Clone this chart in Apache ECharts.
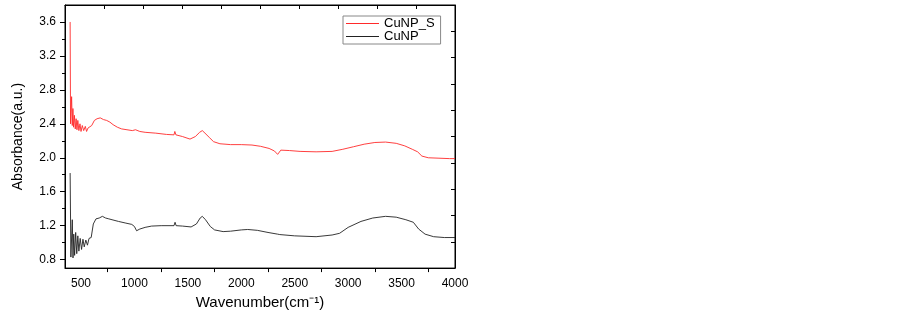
<!DOCTYPE html>
<html>
<head>
    <meta charset="utf-8">
    <title>FTIR absorbance</title>
    <script src="https://cdn.jsdelivr.net/npm/echarts@6/dist/echarts.min.js"></script>
</head>
<body style="margin:0;background:#fff;">
    <div id="main" style="width: 903px;height:315px;"></div>
    <script type="text/javascript">
        // 数据
        var wnRed = [398, 402, 412, 418, 424, 430, 438, 446, 454, 462, 470, 480, 490, 500, 512, 525, 540, 552, 565, 580,
            600, 625, 650, 680, 710, 740, 770, 800, 840, 880, 930, 980, 1010, 1050, 1100, 1200, 1300, 1370, 1378, 1388,
            1450, 1520, 1570, 1610, 1635, 1660, 1700, 1740, 1800, 1900, 2000, 2100, 2180, 2260, 2310, 2340, 2350, 2358,
            2370, 2450, 2550, 2700, 2850, 2950, 3050, 3150, 3250, 3350, 3450, 3530, 3600, 3650, 3690, 3750, 3850, 3950, 4000];
        var absRed = [3.6, 2.4, 2.72, 2.38, 2.58, 2.36, 2.5, 2.34, 2.46, 2.33, 2.44, 2.32, 2.4, 2.31, 2.38, 2.32, 2.37, 2.31, 2.35, 2.33,
            2.38, 2.44, 2.46, 2.47, 2.45, 2.44, 2.42, 2.39, 2.36, 2.34, 2.33, 2.32, 2.33, 2.31, 2.3, 2.29, 2.275, 2.27, 2.31, 2.27,
            2.25, 2.22, 2.25, 2.3, 2.32, 2.29, 2.24, 2.19, 2.165, 2.155, 2.155, 2.15, 2.135, 2.11, 2.08, 2.04, 2.02, 2.03,
            2.09, 2.085, 2.075, 2.07, 2.075, 2.1, 2.13, 2.16, 2.18, 2.185, 2.17, 2.14, 2.1, 2.07, 2.02, 2.0, 1.995, 1.99, 1.99];

        var wnBlack = [398, 405, 418, 425, 432, 440, 450, 460, 470, 480, 492, 505, 518, 530, 545, 560, 575, 595, 615, 640,
            670, 700, 730, 760, 790, 850, 920, 975, 1000, 1020, 1050, 1100, 1160, 1250, 1370, 1380, 1390, 1450, 1530, 1580,
            1615, 1635, 1665, 1710, 1750, 1830, 1900, 2000, 2060, 2150, 2250, 2340, 2350, 2360, 2500, 2700, 2850, 2920,
            3000, 3120, 3230, 3350, 3450, 3540, 3610, 3660, 3720, 3800, 3900, 4000];
        var absBlack = [1.82, 0.83, 1.27, 0.82, 1.1, 0.85, 1.12, 0.87, 1.08, 0.9, 1.05, 0.92, 1.04, 0.95, 1.03, 0.97, 1.05, 1.06, 1.22, 1.28,
            1.29, 1.31, 1.29, 1.28, 1.27, 1.25, 1.23, 1.215, 1.19, 1.14, 1.16, 1.18, 1.195, 1.2, 1.2, 1.24, 1.2, 1.195, 1.185, 1.22,
            1.29, 1.31, 1.27, 1.19, 1.15, 1.13, 1.135, 1.15, 1.155, 1.145, 1.12, 1.1, 1.11, 1.095, 1.08, 1.07, 1.09, 1.11,
            1.18, 1.25, 1.29, 1.31, 1.3, 1.27, 1.24, 1.16, 1.1, 1.07, 1.06, 1.06];

        var seriesNames = ['CuNP_S', 'CuNP'];
        var xLabels = [500, 1000, 1500, 2000, 2500, 3000, 3500, 4000];
        var yLabels = [0.8, 1.2, 1.6, 2.0, 2.4, 2.8, 3.2, 3.6];

        var colors = ['#ff2a2a', '#222'];
        var xMin = 350, xMax = 4000, yMin = 0.7, yMax = 3.8;
        var font = '"Liberation Sans", Arial, sans-serif';

        function pairs(xs, ys) {
            return xs.map(function (x, i) { return [x, ys[i]]; });
        }
        // 底部刻度在标签之间
        var xTicks = xLabels.slice(0, -1).map(function (v) { return v + 250; });
        var yMinor = yLabels.slice(0, -1).map(function (v) { return +(v + 0.2).toFixed(1); });
        // 顶部、右侧刻度：十等分
        var topTicks = [], rightTicks = [];
        for (var k = 1; k < 10; k++) {
            topTicks.push(xMin + (xMax - xMin) * k / 10);
            rightTicks.push(yMin + (yMax - yMin) * k / 10);
        }

        var black = '#000';
        var myChart = echarts.init(document.getElementById('main'));

        var option = {
            animation: false,
            backgroundColor: '#fff',
            color: colors,
            textStyle: { fontFamily: font },
            grid: {
                left: 65, right: 448, top: 5, bottom: 45,
                show: true, borderColor: black, borderWidth: 1, backgroundColor: 'transparent'
            },
            legend: {
                left: 343, top: 16,
                orient: 'vertical',
                padding: [1, 6, 1, 3],
                itemGap: 0,
                itemWidth: 33, itemHeight: 1,
                icon: 'rect',
                borderColor: '#888', borderWidth: 1,
                textStyle: { fontSize: 13, lineHeight: 12, color: black, fontFamily: font },
                data: seriesNames
            },
            xAxis: [{
                type: 'value', position: 'bottom', min: xMin, max: xMax,
                name: 'Wavenumber(cm\u207B\u00B9)', nameLocation: 'middle', nameGap: 24,
                nameTextStyle: { fontSize: 15, color: black, fontFamily: font },
                axisLine: { show: true, lineStyle: { color: black, width: 1 } },
                axisTick: { show: true, inside: false, length: 4, customValues: xTicks, lineStyle: { color: black } },
                axisLabel: {
                    customValues: xLabels, margin: 10, fontSize: 12, color: black, fontFamily: font,
                    formatter: function (v) { return String(v); }
                },
                splitLine: { show: false }
            }, {
                type: 'value', position: 'top', min: xMin, max: xMax,
                axisLine: { show: true, lineStyle: { color: black, width: 1 } },
                axisTick: { show: true, inside: true, length: 4, customValues: topTicks, lineStyle: { color: black } },
                axisLabel: { show: false },
                splitLine: { show: false }
            }],
            yAxis: [{
                type: 'value', position: 'left', min: yMin, max: yMax,
                name: 'Absorbance(a.u.)', nameLocation: 'middle', nameGap: 40, nameRotate: 90,
                nameTextStyle: { fontSize: 14, color: black, fontFamily: font },
                axisLine: { show: true, lineStyle: { color: black, width: 1 } },
                axisTick: { show: true, inside: false, length: 5, customValues: yLabels, lineStyle: { color: black } },
                axisLabel: {
                    customValues: yLabels, margin: 9, fontSize: 12, color: black, fontFamily: font,
                    formatter: function (v) { return v.toFixed(1); }
                },
                splitLine: { show: false }
            }, {
                type: 'value', position: 'left', min: yMin, max: yMax,
                axisLine: { show: false },
                axisTick: { show: true, inside: false, length: 3, customValues: yMinor, lineStyle: { color: black } },
                axisLabel: { show: false },
                splitLine: { show: false }
            }, {
                type: 'value', position: 'right', min: yMin, max: yMax,
                axisLine: { show: true, lineStyle: { color: black, width: 1 } },
                axisTick: { show: true, inside: true, length: 4, customValues: rightTicks, lineStyle: { color: black } },
                axisLabel: { show: false },
                splitLine: { show: false }
            }],
            series: [{
                name: seriesNames[0],
                type: 'line',
                symbol: 'none',
                itemStyle: { color: colors[0] },
                lineStyle: { width: 0.9, color: colors[0] },
                data: pairs(wnRed, absRed)
            }, {
                name: seriesNames[1],
                type: 'line',
                symbol: 'none',
                itemStyle: { color: colors[1] },
                lineStyle: { width: 0.9, color: colors[1] },
                data: pairs(wnBlack, absBlack)
            }]
        };

        myChart.setOption(option, true);
    </script>
</body>
</html>
